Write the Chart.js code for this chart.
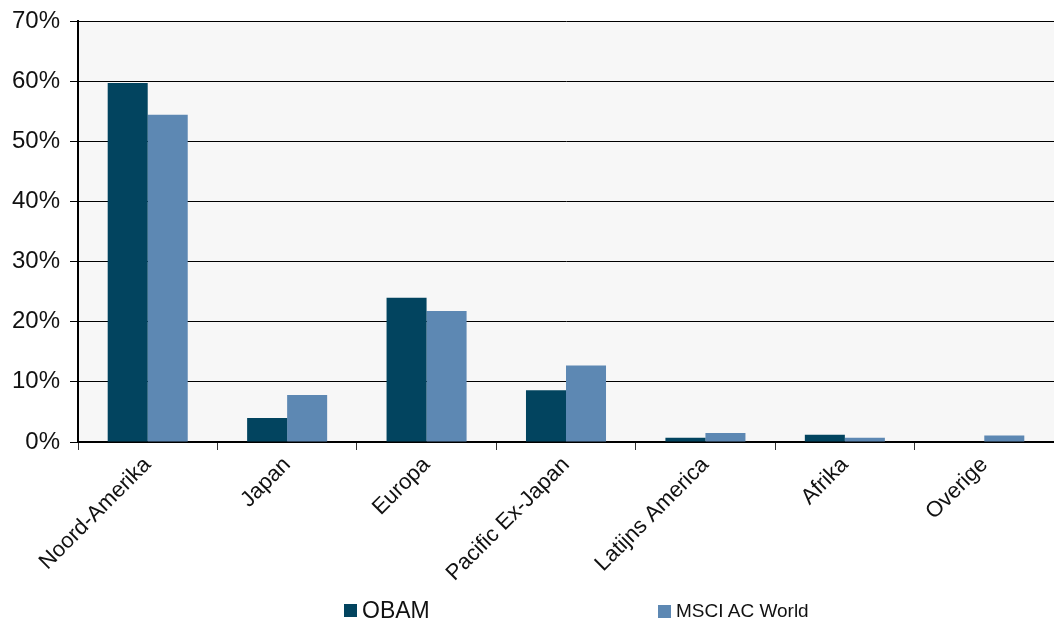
<!DOCTYPE html>
<html>
<head>
<meta charset="utf-8">
<script src="https://cdn.jsdelivr.net/npm/chart.js@4/dist/chart.umd.min.js"></script>
<style>
    body { margin: 0; background: #fff; }
    #wrap { position: relative; width: 1054px; height: 626px; }
    .legend-item { position: absolute; top: 597px; display: flex; align-items: center; color: #111; font-family: "Liberation Sans", Arial, sans-serif; }
    .legend-item span.box { display: inline-block; width: 13px; height: 13px; margin-right: 5px; }
</style>
</head>
<body>
<div id="wrap">
    <canvas id="regionChart"></canvas>
    <div class="legend-item" id="leg0" style="left:344px; font-size:23px;"></div>
    <div class="legend-item" id="leg1" style="left:658px; font-size:19px; top:600px;"></div>
</div>
<script>
const categories = ['Noord-Amerika', 'Japan', 'Europa', 'Pacific Ex-Japan', 'Latijns America', 'Afrika', 'Overige'];
const seriesNames = ['OBAM', 'MSCI AC World'];
const obamValues = [59.7, 4.0, 24.0, 8.6, 0.7, 1.2, 0.0];
const msciValues = [54.4, 7.8, 21.8, 12.7, 1.5, 0.7, 1.1];
const yTicks = [0, 10, 20, 30, 40, 50, 60, 70];

const seriesColors = ['#02445f', '#5d88b3'];

const plotBackground = {
    id: 'plotBackground',
    beforeDraw(chart) {
        const { ctx, chartArea } = chart;
        ctx.save();
        ctx.fillStyle = '#f7f7f7';
        ctx.fillRect(chartArea.left, chartArea.top, chartArea.right - chartArea.left, chartArea.bottom - chartArea.top);
        ctx.restore();
    },
};

const canvas = document.getElementById('regionChart');

new Chart(canvas, {
    type: 'bar',
    data: {
        labels: categories,
        datasets: [
            { label: seriesNames[0], data: obamValues, backgroundColor: seriesColors[0] },
            { label: seriesNames[1], data: msciValues, backgroundColor: seriesColors[1] },
        ],
    },
    options: {
        responsive: true,
        maintainAspectRatio: false,
        animation: false,
        categoryPercentage: 0.574,
        barPercentage: 1.0,
        layout: { padding: { top: 21, right: 0, left: 0, bottom: 0 } },
        plugins: {
            legend: { display: false },
            tooltip: { enabled: false },
        },
        scales: {
            x: {
                grid: { display: true, drawOnChartArea: false, drawTicks: true, tickLength: 8, color: '#333', offset: true },
                border: { color: '#000', width: 2 },
                ticks: {
                    minRotation: 45,
                    maxRotation: 45,
                    autoSkip: false,
                    padding: 2,
                    color: '#111',
                    font: { family: '"Liberation Sans", Arial, sans-serif', size: 22 },
                },
                afterFit(scale) {
                    scale.height = 184;
                    scale.paddingLeft = 0;
                    scale.paddingRight = 0;
                },
            },
            y: {
                min: 0,
                max: 70,
                afterBuildTicks(scale) {
                    scale.ticks = yTicks.map(v => ({ value: v }));
                },
                grid: { color: '#000', lineWidth: 1, drawTicks: true, tickLength: 8 },
                border: { color: '#000', width: 2 },
                ticks: {
                    padding: 10,
                    color: '#111',
                    font: { family: '"Liberation Sans", Arial, sans-serif', size: 24 },
                    callback: v => v + '%',
                },
                afterFit(scale) {
                    scale.width = 78;
                    scale.paddingTop = 0;
                    scale.paddingBottom = 0;
                },
            },
        },
    },
    plugins: [plotBackground],
});

seriesNames.forEach((name, i) => {
    const el = document.getElementById('leg' + i);
    el.innerHTML = '<span class="box" style="background:' + seriesColors[i] + '"></span>' + name;
});
</script>
</body>
</html>
